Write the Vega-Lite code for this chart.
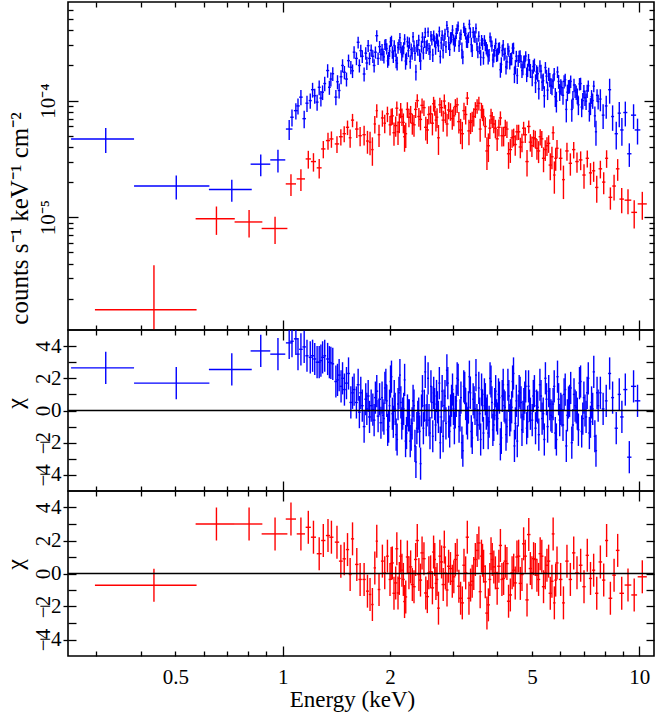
{
"$schema": "https://vega.github.io/schema/vega-lite/v6.json",
"background": "white",
"padding": {"left": 2, "top": 0, "right": 0, "bottom": 0},
"spacing": 0,
"bounds": "flush",
"config": {
  "view": {"stroke": "black", "strokeWidth": 1.6},
  "font": "Liberation Serif",
  "axis": {"grid": false, "domain": false, "labelFont": "Liberation Serif", "titleFont": "Liberation Serif", "labelColor": "black", "titleColor": "black", "tickColor": "black", "tickWidth": 1.3, "labelFontSize": 21, "titleFontSize": 23, "titleFontWeight": "normal", "labelFlush": false, "labelOverlap": false}
},
"datasets": {
"blue": [
{"e":0.319,"d":0.064,"f":4.69e-5,"s":1.13e-5,"c":2.65},
{"e":0.503,"d":0.12,"f":1.85e-5,"s":4.3e-6,"c":1.7},
{"e":0.72,"d":0.099,"f":1.73e-5,"s":3.7e-6,"c":2.55},
{"e":0.868,"d":0.055,"f":2.85e-5,"s":6.0e-6,"c":3.7},
{"e":0.97,"d":0.047,"f":3.1e-5,"s":6.8e-6,"c":3.5},
{"e":1.043,"d":0.022,"f":5.7e-5,"s":1.1e-5,"c":4.2},
{"e":1.062,"d":0.012,"f":7.2e-5,"s":1.2e-5,"c":4.3},
{"e":1.089,"d":0.014,"f":8.2e-5,"s":1.3e-5,"c":4.45},
{"e":1.104,"d":0.012,"f":9.0e-5,"s":1.4e-5,"c":3.5},
{"e":1.125,"d":0.013,"f":1.07e-4,"s":1.6e-5,"c":3.8},
{"e":1.149,"d":0.013,"f":7.0e-5,"s":1.2e-5,"c":3.95},
{"e":1.17,"d":0.012,"f":9.5e-5,"s":1.5e-5,"c":3.4},
{"e":1.195,"d":0.012,"f":1.0e-4,"s":1.5e-5,"c":3.3},
{"e":1.213,"d":0.012,"f":1.24e-4,"s":1.8e-5,"c":3.4},
{"e":1.23,"d":0.012,"f":1.1e-4,"s":1.6e-5,"c":3.2},
{"e":1.249,"d":0.012,"f":9.7e-5,"s":1.5e-5,"c":3.0},
{"e":1.266,"d":0.012,"f":1.3e-4,"s":1.9e-5,"c":3.0},
{"e":1.28,"d":0.012,"f":1.05e-4,"s":1.6e-5,"c":3.1},
{"e":1.294,"d":0.012,"f":1.18e-4,"s":1.7e-5,"c":3.3},
{"e":1.312,"d":0.012,"f":1.4e-4,"s":2.0e-5,"c":3.4},
{"e":1.337,"d":0.013,"f":1.81e-4,"s":2.4e-5,"c":3.2},
{"e":1.352,"d":0.012,"f":1.3e-4,"s":1.8e-5,"c":3.0},
{"e":1.365,"d":0.012,"f":1.53e-4,"s":2.1e-5,"c":2.96},
{"e":1.382,"d":0.012,"f":1.7e-4,"s":2.3e-5,"c":2.9},
{"e":1.41,"d":0.014,"f":1.07e-4,"s":1.6e-5,"c":1.8},
{"e":1.425,"d":0.012,"f":1.45e-4,"s":2.0e-5,"c":1.9},
{"e":1.44,"d":0.013,"f":1.22e-4,"s":1.8e-5,"c":2.2},
{"e":1.458,"d":0.013,"f":1.6e-4,"s":2.2e-5,"c":1.5},
{"e":1.472,"d":0.013,"f":2.0e-4,"s":2.6e-5,"c":2.0},
{"e":1.49,"d":0.013,"f":1.75e-4,"s":2.3e-5,"c":1.3},
{"e":1.51,"d":0.014,"f":1.53e-4,"s":2.1e-5,"c":1.7},
{"e":1.53,"d":0.014,"f":2.2e-4,"s":2.8e-5,"c":2.3},
{"e":1.553,"d":0.014,"f":1.93e-4,"s":2.5e-5,"c":0.5},
{"e":1.57,"d":0.014,"f":1.8e-4,"s":2.4e-5,"c":1.1},
{"e":1.586,"d":0.014,"f":2.6e-4,"s":3.2e-5,"c":1.3},
{"e":1.61,"d":0.015,"f":2.3e-4,"s":2.9e-5,"c":0.5},
{"e":1.628,"d":0.015,"f":3.16e-4,"s":3.7e-5,"c":1.6},
{"e":1.641,"d":0.015,"f":2.0e-4,"s":2.6e-5,"c":-0.1},
{"e":1.656,"d":0.015,"f":2.68e-4,"s":3.3e-5,"c":1.1},
{"e":1.672,"d":0.015,"f":2.4e-4,"s":3.0e-5,"c":0.3},
{"e":1.692,"d":0.015,"f":1.69e-4,"s":2.3e-5,"c":-1.0},
{"e":1.71,"d":0.015,"f":2.55e-4,"s":3.1e-5,"c":0.7},
{"e":1.722,"d":0.015,"f":2.1e-4,"s":2.7e-5,"c":0.1},
{"e":1.737,"d":0.016,"f":2.96e-4,"s":3.5e-5,"c":0.9},
{"e":1.752,"d":0.016,"f":2.3e-4,"s":2.9e-5,"c":-0.4},
{"e":1.771,"d":0.016,"f":2.7e-4,"s":3.2e-5,"c":0.3},
{"e":1.79,"d":0.016,"f":2.4e-4,"s":3.0e-5,"c":0.06},
{"e":1.805,"d":0.016,"f":2.0e-4,"s":2.6e-5,"c":-0.6},
{"e":1.82,"d":0.016,"f":2.6e-4,"s":3.1e-5,"c":0.8},
{"e":1.836,"d":0.017,"f":3.6e-4,"s":4.0e-5,"c":1.2},
{"e":1.852,"d":0.017,"f":2.3e-4,"s":2.8e-5,"c":-0.35},
{"e":1.87,"d":0.017,"f":2.9e-4,"s":3.4e-5,"c":0.7},
{"e":1.886,"d":0.017,"f":2.5e-4,"s":3.0e-5,"c":-0.76},
{"e":1.9,"d":0.012,"f":2.74e-4,"s":3.2e-5,"c":0.8},
{"e":1.923,"d":0.012,"f":2.37e-4,"s":2.9e-5,"c":-0.5},
{"e":1.947,"d":0.012,"f":3.03e-4,"s":3.5e-5,"c":1.6},
{"e":1.97,"d":0.012,"f":2.19e-4,"s":2.8e-5,"c":-1.2},
{"e":1.994,"d":0.012,"f":2.67e-4,"s":3.1e-5,"c":0.3},
{"e":2.019,"d":0.012,"f":3.26e-4,"s":3.4e-5,"c":2.1},
{"e":2.043,"d":0.012,"f":2.4e-4,"s":3.0e-5,"c":-0.7},
{"e":2.068,"d":0.012,"f":2.67e-4,"s":3.1e-5,"c":0.1},
{"e":2.094,"d":0.013,"f":2.09e-4,"s":2.8e-5,"c":-1.8},
{"e":2.119,"d":0.013,"f":3.03e-4,"s":3.3e-5,"c":1.1},
{"e":2.145,"d":0.013,"f":2.86e-4,"s":3.2e-5,"c":0.5},
{"e":2.171,"d":0.013,"f":2.65e-4,"s":3.1e-5,"c":-0.2},
{"e":2.198,"d":0.013,"f":3.36e-4,"s":3.5e-5,"c":1.9},
{"e":2.225,"d":0.015,"f":2.3e-4,"s":2.9e-5,"c":-1.4},
{"e":2.252,"d":0.015,"f":2.68e-4,"s":3.2e-5,"c":-0.3},
{"e":2.279,"d":0.015,"f":2.16e-4,"s":2.9e-5,"c":-1.9},
{"e":2.307,"d":0.015,"f":2.55e-4,"s":3.1e-5,"c":-0.8},
{"e":2.335,"d":0.015,"f":2.94e-4,"s":3.3e-5,"c":0.3},
{"e":2.364,"d":0.015,"f":1.76e-4,"s":2.7e-5,"c":-3.2},
{"e":2.393,"d":0.015,"f":2.74e-4,"s":3.2e-5,"c":-0.4},
{"e":2.422,"d":0.015,"f":2.45e-4,"s":3.1e-5,"c":-1.3},
{"e":2.451,"d":0.015,"f":2.92e-4,"s":3.4e-5,"c":0.0},
{"e":2.481,"d":0.015,"f":2.56e-4,"s":3.1e-5,"c":-1.1},
{"e":2.511,"d":0.015,"f":3.83e-4,"s":3.9e-5,"c":2.4},
{"e":2.542,"d":0.015,"f":2.99e-4,"s":3.4e-5,"c":0.0},
{"e":2.573,"d":0.016,"f":2.79e-4,"s":3.3e-5,"c":-0.6},
{"e":2.605,"d":0.016,"f":3.58e-4,"s":3.7e-5,"c":1.5},
{"e":2.636,"d":0.016,"f":2.46e-4,"s":3.2e-5,"c":-1.6},
{"e":2.668,"d":0.016,"f":3.22e-4,"s":3.5e-5,"c":0.4},
{"e":2.701,"d":0.016,"f":3.42e-4,"s":3.6e-5,"c":0.9},
{"e":2.734,"d":0.016,"f":2.95e-4,"s":3.4e-5,"c":-0.4},
{"e":2.767,"d":0.017,"f":2.39e-4,"s":3.1e-5,"c":-2.0},
{"e":2.801,"d":0.017,"f":3.63e-4,"s":3.8e-5,"c":1.2},
{"e":2.835,"d":0.017,"f":3.3e-4,"s":3.6e-5,"c":0.3},
{"e":2.87,"d":0.018,"f":2.9e-4,"s":3.4e-5,"c":-0.8},
{"e":2.905,"d":0.018,"f":3.89e-4,"s":3.9e-5,"c":1.7},
{"e":2.94,"d":0.018,"f":2.74e-4,"s":3.3e-5,"c":-1.3},
{"e":2.976,"d":0.018,"f":3.51e-4,"s":3.7e-5,"c":0.6},
{"e":3.013,"d":0.019,"f":3.33e-4,"s":3.6e-5,"c":0.1},
{"e":3.049,"d":0.019,"f":3.26e-4,"s":3.6e-5,"c":-0.1},
{"e":3.086,"d":0.019,"f":4.12e-4,"s":4.0e-5,"c":2.0},
{"e":3.124,"d":0.02,"f":2.95e-4,"s":3.4e-5,"c":-1.0},
{"e":3.162,"d":0.02,"f":3.68e-4,"s":3.8e-5,"c":0.8},
{"e":3.201,"d":0.02,"f":2.36e-4,"s":3.1e-5,"c":-2.5},
{"e":3.24,"d":0.02,"f":3.95e-4,"s":3.9e-5,"c":1.4},
{"e":3.279,"d":0.02,"f":3.19e-4,"s":3.6e-5,"c":-0.5},
{"e":3.319,"d":0.021,"f":3.48e-4,"s":3.7e-5,"c":0.2},
{"e":3.36,"d":0.021,"f":3.85e-4,"s":3.9e-5,"c":1.1},
{"e":3.401,"d":0.021,"f":2.69e-4,"s":3.3e-5,"c":-1.7},
{"e":3.442,"d":0.021,"f":3.55e-4,"s":3.8e-5,"c":0.5},
{"e":3.484,"d":0.022,"f":4.17e-4,"s":4.1e-5,"c":2.2},
{"e":3.527,"d":0.022,"f":2.63e-4,"s":3.2e-5,"c":-0.9},
{"e":3.57,"d":0.022,"f":2.83e-4,"s":3.3e-5,"c":-0.2},
{"e":3.613,"d":0.022,"f":3.29e-4,"s":3.6e-5,"c":1.3},
{"e":3.657,"d":0.023,"f":2.33e-4,"s":3.0e-5,"c":-1.4},
{"e":3.702,"d":0.023,"f":2.99e-4,"s":3.4e-5,"c":0.7},
{"e":3.747,"d":0.023,"f":2.72e-4,"s":3.2e-5,"c":0.0},
{"e":3.793,"d":0.024,"f":2.46e-4,"s":3.1e-5,"c":-0.7},
{"e":3.839,"d":0.024,"f":3.21e-4,"s":3.5e-5,"c":1.8},
{"e":3.886,"d":0.024,"f":2.23e-4,"s":3.0e-5,"c":-1.2},
{"e":3.933,"d":0.025,"f":2.69e-4,"s":3.2e-5,"c":0.4},
{"e":3.981,"d":0.025,"f":2.45e-4,"s":3.1e-5,"c":-0.3},
{"e":4.03,"d":0.025,"f":2.8e-4,"s":3.3e-5,"c":1.0},
{"e":4.079,"d":0.026,"f":1.84e-4,"s":2.7e-5,"c":-2.1},
{"e":4.129,"d":0.026,"f":2.69e-4,"s":3.2e-5,"c":0.9},
{"e":4.179,"d":0.026,"f":2.49e-4,"s":3.0e-5,"c":0.3},
{"e":4.23,"d":0.027,"f":1.94e-4,"s":2.7e-5,"c":-1.5},
{"e":4.282,"d":0.027,"f":2.78e-4,"s":3.2e-5,"c":1.6},
{"e":4.334,"d":0.027,"f":2.13e-4,"s":2.8e-5,"c":-0.6},
{"e":4.387,"d":0.028,"f":2.3e-4,"s":2.9e-5,"c":0.2},
{"e":4.44,"d":0.028,"f":2.82e-4,"s":3.2e-5,"c":2.3},
{"e":4.494,"d":0.028,"f":1.96e-4,"s":2.7e-5,"c":-0.8},
{"e":4.549,"d":0.029,"f":1.64e-4,"s":2.5e-5,"c":-1.9},
{"e":4.605,"d":0.029,"f":2.39e-4,"s":2.9e-5,"c":1.2},
{"e":4.661,"d":0.029,"f":2.17e-4,"s":2.8e-5,"c":0.5},
{"e":4.718,"d":0.03,"f":1.91e-4,"s":2.6e-5,"c":-0.4},
{"e":4.775,"d":0.03,"f":2.16e-4,"s":2.7e-5,"c":0.8},
{"e":4.834,"d":0.03,"f":1.68e-4,"s":2.4e-5,"c":-1.1},
{"e":4.893,"d":0.031,"f":2.23e-4,"s":2.8e-5,"c":1.5},
{"e":4.952,"d":0.031,"f":1.81e-4,"s":2.5e-5,"c":-0.2},
{"e":5.01,"d":0.036,"f":1.59e-4,"s":2.6e-5,"c":-0.6},
{"e":5.082,"d":0.036,"f":2.03e-4,"s":2.6e-5,"c":1.2},
{"e":5.155,"d":0.037,"f":1.76e-4,"s":2.5e-5,"c":0.3},
{"e":5.228,"d":0.037,"f":1.26e-4,"s":2.4e-5,"c":-1.5},
{"e":5.303,"d":0.038,"f":1.79e-4,"s":2.4e-5,"c":0.9},
{"e":5.379,"d":0.038,"f":1.48e-4,"s":2.3e-5,"c":-0.2},
{"e":5.456,"d":0.039,"f":1.92e-4,"s":2.2e-5,"c":2.0},
{"e":5.534,"d":0.039,"f":1.23e-4,"s":2.2e-5,"c":-1.0},
{"e":5.613,"d":0.04,"f":1.51e-4,"s":2.1e-5,"c":0.4},
{"e":5.693,"d":0.04,"f":1.32e-4,"s":2.1e-5,"c":-0.4},
{"e":5.775,"d":0.041,"f":1.69e-4,"s":2.1e-5,"c":1.5},
{"e":5.857,"d":0.042,"f":9.9e-5,"s":2.0e-5,"c":-1.8},
{"e":5.941,"d":0.042,"f":1.46e-4,"s":2.0e-5,"c":0.7},
{"e":6.026,"d":0.043,"f":1.32e-4,"s":2.0e-5,"c":0.1},
{"e":6.112,"d":0.044,"f":1.11e-4,"s":1.9e-5,"c":-0.9},
{"e":6.2,"d":0.044,"f":1.51e-4,"s":1.9e-5,"c":1.3},
{"e":6.288,"d":0.045,"f":1.18e-4,"s":1.9e-5,"c":-0.3},
{"e":6.378,"d":0.045,"f":1.33e-4,"s":1.8e-5,"c":0.6},
{"e":6.469,"d":0.046,"f":8.4e-5,"s":1.8e-5,"c":-2.0},
{"e":6.562,"d":0.047,"f":1.36e-4,"s":1.8e-5,"c":1.0},
{"e":6.656,"d":0.047,"f":1.18e-4,"s":1.7e-5,"c":0.2},
{"e":6.751,"d":0.048,"f":9.2e-5,"s":1.7e-5,"c":-1.2},
{"e":6.847,"d":0.049,"f":1.4e-4,"s":1.7e-5,"c":1.8},
{"e":6.945,"d":0.049,"f":1.0e-4,"s":1.6e-5,"c":-0.5},
{"e":7.044,"d":0.05,"f":1.06e-4,"s":1.6e-5,"c":0.0},
{"e":7.145,"d":0.051,"f":1.21e-4,"s":1.6e-5,"c":1.1},
{"e":7.247,"d":0.051,"f":8.1e-5,"s":1.5e-5,"c":-1.4},
{"e":7.351,"d":0.052,"f":1.08e-4,"s":1.5e-5,"c":0.5},
{"e":7.456,"d":0.053,"f":1.33e-4,"s":1.5e-5,"c":2.4},
{"e":7.562,"d":0.054,"f":5.4e-5,"s":1.3e-5,"c":-2.5},
{"e":7.67,"d":0.055,"f":9.8e-5,"s":1.4e-5,"c":0.3},
{"e":7.78,"d":0.06,"f":1.03e-4,"s":2.2e-5,"c":1.1},
{"e":7.92,"d":0.07,"f":7.5e-5,"s":1.8e-5,"c":0.1},
{"e":8.08,"d":0.07,"f":9.0e-5,"s":2.0e-5,"c":0.6},
{"e":8.26,"d":0.08,"f":1.24e-4,"s":3.0e-5,"c":2.3},
{"e":8.42,"d":0.08,"f":7.3e-5,"s":1.8e-5,"c":0.8},
{"e":8.62,"d":0.09,"f":5.2e-5,"s":1.4e-5,"c":-1.1},
{"e":8.79,"d":0.09,"f":7.8e-5,"s":1.9e-5,"c":1.0},
{"e":8.94,"d":0.1,"f":5.6e-5,"s":1.5e-5,"c":-0.4},
{"e":9.14,"d":0.12,"f":7.9e-5,"s":1.9e-5,"c":1.3},
{"e":9.38,"d":0.13,"f":3.5e-5,"s":8.0e-6,"c":-2.9},
{"e":9.64,"d":0.16,"f":7.5e-5,"s":1.8e-5,"c":1.5},
{"e":9.89,"d":0.18,"f":5.6e-5,"s":1.4e-5,"c":0.6},
{"e":1.9115,"d":0.012,"f":2.49e-4,"s":3.1e-5,"c":-0.3},
{"e":1.935,"d":0.012,"f":3.03e-4,"s":3.1e-5,"c":1.4},
{"e":1.9585,"d":0.012,"f":2.79e-4,"s":3.1e-5,"c":0.6},
{"e":1.982,"d":0.012,"f":2.3e-4,"s":3.1e-5,"c":-1.0},
{"e":2.0065,"d":0.012,"f":3.19e-4,"s":3.1e-5,"c":1.8},
{"e":2.031,"d":0.012,"f":2.6e-4,"s":3.2e-5,"c":-0.2},
{"e":2.0555,"d":0.012,"f":2.97e-4,"s":3.2e-5,"c":0.9},
{"e":2.081,"d":0.013,"f":2.21e-4,"s":3.2e-5,"c":-1.5},
{"e":2.1065,"d":0.013,"f":2.85e-4,"s":3.3e-5,"c":0.4},
{"e":2.132,"d":0.013,"f":3.46e-4,"s":3.3e-5,"c":2.2},
{"e":2.158,"d":0.013,"f":2.5e-4,"s":3.3e-5,"c":-0.8},
{"e":2.1845,"d":0.013,"f":2.83e-4,"s":3.4e-5,"c":0.1},
{"e":2.2115,"d":0.014,"f":2.18e-4,"s":3.4e-5,"c":-1.9},
{"e":2.2385,"d":0.015,"f":3.2e-4,"s":3.4e-5,"c":0.0},
{"e":2.2655,"d":0.015,"f":3.13e-4,"s":3.5e-5,"c":-0.3},
{"e":2.293,"d":0.015,"f":2.74e-4,"s":3.5e-5,"c":-1.5},
{"e":2.321,"d":0.015,"f":3.52e-4,"s":3.5e-5,"c":0.6},
{"e":2.3495,"d":0.015,"f":2.54e-4,"s":3.6e-5,"c":-2.2},
{"e":2.3785,"d":0.015,"f":2.95e-4,"s":3.6e-5,"c":-1.1},
{"e":2.4075,"d":0.015,"f":3.3e-4,"s":3.6e-5,"c":-0.2},
{"e":2.4365,"d":0.015,"f":2.19e-4,"s":3.6e-5,"c":-3.3},
{"e":2.466,"d":0.015,"f":3.49e-4,"s":3.7e-5,"c":1.2},
{"e":2.496,"d":0.015,"f":3.19e-4,"s":3.7e-5,"c":0.3},
{"e":2.5265,"d":0.015,"f":2.88e-4,"s":3.7e-5,"c":-0.6},
{"e":2.5575,"d":0.016,"f":3.87e-4,"s":3.7e-5,"c":2.0},
{"e":2.589,"d":0.016,"f":2.61e-4,"s":3.8e-5,"c":-1.4},
{"e":2.6205,"d":0.016,"f":3.35e-4,"s":3.8e-5,"c":0.5},
{"e":2.652,"d":0.016,"f":3.6e-4,"s":3.8e-5,"c":1.1},
{"e":2.6845,"d":0.016,"f":2.85e-4,"s":3.8e-5,"c":-0.9},
{"e":2.7175,"d":0.016,"f":3.31e-4,"s":3.9e-5,"c":0.2},
{"e":2.7505,"d":0.017,"f":3.92e-4,"s":3.9e-5,"c":1.7},
{"e":2.784,"d":0.017,"f":3.13e-4,"s":3.9e-5,"c":-0.4},
{"e":2.818,"d":0.017,"f":2.69e-4,"s":4.0e-5,"c":-1.6},
{"e":2.8525,"d":0.017,"f":3.72e-4,"s":4.0e-5,"c":0.9},
{"e":2.8875,"d":0.018,"f":4.41e-4,"s":4.1e-5,"c":2.5},
{"e":2.9225,"d":0.018,"f":3.13e-4,"s":4.1e-5,"c":-0.7},
{"e":2.958,"d":0.018,"f":3.45e-4,"s":4.1e-5,"c":0.0},
{"e":2.9945,"d":0.018,"f":4.02e-4,"s":4.2e-5,"c":1.3},
{"e":3.031,"d":0.019,"f":3.04e-4,"s":4.2e-5,"c":-1.1},
{"e":3.0675,"d":0.019,"f":3.77e-4,"s":4.2e-5,"c":0.6},
{"e":3.105,"d":0.019,"f":4.35e-4,"s":4.2e-5,"c":1.9},
{"e":3.143,"d":0.02,"f":3.43e-4,"s":4.3e-5,"c":-0.3},
{"e":3.1815,"d":0.02,"f":2.71e-4,"s":4.3e-5,"c":-2.0},
{"e":3.2205,"d":0.02,"f":4.22e-4,"s":4.3e-5,"c":1.5},
{"e":3.2595,"d":0.02,"f":3.76e-4,"s":4.3e-5,"c":0.4},
{"e":3.299,"d":0.02,"f":3.25e-4,"s":4.3e-5,"c":-0.8},
{"e":3.3395,"d":0.021,"f":4.51e-4,"s":4.3e-5,"c":2.1},
{"e":3.3805,"d":0.021,"f":3.02e-4,"s":4.3e-5,"c":-1.3},
{"e":3.4215,"d":0.021,"f":3.85e-4,"s":4.3e-5,"c":0.7},
{"e":3.463,"d":0.021,"f":3.54e-4,"s":4.2e-5,"c":0.1},
{"e":3.5055,"d":0.022,"f":3.06e-4,"s":4.0e-5,"c":-0.6},
{"e":3.5485,"d":0.022,"f":3.56e-4,"s":3.7e-5,"c":1.4},
{"e":3.5915,"d":0.022,"f":2.35e-4,"s":3.6e-5,"c":-1.8},
{"e":3.635,"d":0.022,"f":3.08e-4,"s":3.6e-5,"c":0.3},
{"e":3.6795,"d":0.023,"f":3.29e-4,"s":3.5e-5,"c":1.0},
{"e":3.7245,"d":0.023,"f":2.83e-4,"s":3.5e-5,"c":-0.2},
{"e":3.77,"d":0.023,"f":2.38e-4,"s":3.4e-5,"c":-1.4},
{"e":3.816,"d":0.024,"f":3.5e-4,"s":3.4e-5,"c":2.0},
{"e":3.8625,"d":0.024,"f":2.95e-4,"s":3.3e-5,"c":0.5},
{"e":3.9095,"d":0.024,"f":2.44e-4,"s":3.3e-5,"c":-0.9},
{"e":3.957,"d":0.025,"f":3.09e-4,"s":3.2e-5,"c":1.2},
{"e":4.0055,"d":0.025,"f":2.49e-4,"s":3.2e-5,"c":-0.5},
{"e":4.0545,"d":0.025,"f":2.85e-4,"s":3.1e-5,"c":0.8},
{"e":4.104,"d":0.026,"f":2.04e-4,"s":3.1e-5,"c":-1.7},
{"e":4.154,"d":0.026,"f":3.0e-4,"s":3.0e-5,"c":1.6},
{"e":4.2045,"d":0.026,"f":2.54e-4,"s":3.0e-5,"c":0.2},
{"e":4.256,"d":0.027,"f":2.15e-4,"s":2.9e-5,"c":-1.0},
{"e":4.308,"d":0.027,"f":2.66e-4,"s":2.9e-5,"c":0.9},
{"e":4.3605,"d":0.027,"f":2.28e-4,"s":2.8e-5,"c":-0.3},
{"e":4.4135,"d":0.028,"f":2.82e-4,"s":2.8e-5,"c":1.8},
{"e":4.467,"d":0.028,"f":1.68e-4,"s":2.7e-5,"c":-2.2},
{"e":4.5215,"d":0.028,"f":2.4e-4,"s":2.7e-5,"c":0.6},
{"e":4.577,"d":0.029,"f":2.2e-4,"s":2.6e-5,"c":0.0},
{"e":4.633,"d":0.029,"f":2.44e-4,"s":2.6e-5,"c":1.1},
{"e":4.6895,"d":0.029,"f":1.81e-4,"s":2.5e-5,"c":-1.2},
{"e":4.7465,"d":0.03,"f":2.18e-4,"s":2.5e-5,"c":0.4},
{"e":4.8045,"d":0.03,"f":2.41e-4,"s":2.4e-5,"c":1.5},
{"e":4.8635,"d":0.03,"f":1.83e-4,"s":2.4e-5,"c":-0.7},
{"e":4.9225,"d":0.031,"f":2.03e-4,"s":2.4e-5,"c":0.3},
{"e":5.046,"d":0.036,"f":1.96e-4,"s":2.6e-5,"c":0.9},
{"e":5.1185,"d":0.036,"f":1.42e-4,"s":2.6e-5,"c":-1.1},
{"e":5.1915,"d":0.037,"f":1.7e-4,"s":2.5e-5,"c":0.2},
{"e":5.2655,"d":0.037,"f":1.98e-4,"s":2.4e-5,"c":1.6},
{"e":5.341,"d":0.038,"f":1.44e-4,"s":2.3e-5,"c":-0.5},
{"e":5.4175,"d":0.038,"f":1.1e-4,"s":2.3e-5,"c":-1.8},
{"e":5.495,"d":0.039,"f":1.62e-4,"s":2.2e-5,"c":0.7},
{"e":5.5735,"d":0.039,"f":1.69e-4,"s":2.2e-5,"c":1.2},
{"e":5.653,"d":0.04,"f":1.35e-4,"s":2.1e-5,"c":-0.3},
{"e":5.734,"d":0.04,"f":1.47e-4,"s":2.1e-5,"c":0.4},
{"e":5.816,"d":0.041,"f":1.08e-4,"s":2.0e-5,"c":-1.4},
{"e":5.899,"d":0.042,"f":1.76e-4,"s":2.0e-5,"c":2.1},
{"e":5.9835,"d":0.042,"f":1.19e-4,"s":2.0e-5,"c":-0.6},
{"e":6.069,"d":0.043,"f":1.29e-4,"s":1.9e-5,"c":0.0},
{"e":6.156,"d":0.044,"f":1.46e-4,"s":1.9e-5,"c":1.0},
{"e":6.244,"d":0.044,"f":8.4e-5,"s":1.9e-5,"c":-2.2},
{"e":6.333,"d":0.045,"f":1.32e-4,"s":1.8e-5,"c":0.5},
{"e":6.4235,"d":0.045,"f":1.46e-4,"s":1.8e-5,"c":1.4},
{"e":6.5155,"d":0.046,"f":1.03e-4,"s":1.8e-5,"c":-0.9},
{"e":6.609,"d":0.047,"f":1.22e-4,"s":1.7e-5,"c":0.3},
{"e":6.7035,"d":0.047,"f":1.1e-4,"s":1.7e-5,"c":-0.2},
{"e":6.799,"d":0.048,"f":1.39e-4,"s":1.7e-5,"c":1.7},
{"e":6.896,"d":0.049,"f":8.8e-5,"s":1.6e-5,"c":-1.3},
{"e":6.9945,"d":0.049,"f":1.2e-4,"s":1.6e-5,"c":0.8},
{"e":7.0945,"d":0.05,"f":9.9e-5,"s":1.6e-5,"c":-0.4},
{"e":7.196,"d":0.051,"f":1.34e-4,"s":1.5e-5,"c":2.0},
{"e":7.299,"d":0.051,"f":9.0e-5,"s":1.5e-5,"c":-0.7},
{"e":7.4035,"d":0.052,"f":1.0e-4,"s":1.5e-5,"c":0.1},
{"e":7.509,"d":0.053,"f":7.4e-5,"s":1.5e-5,"c":-1.6},
{"e":7.616,"d":0.054,"f":1.11e-4,"s":1.4e-5,"c":1.1}
],
"red": [
{"e":0.4355,"d":0.138,"f":1.6e-6,"s":2.26e-6,"c":-0.71},
{"e":0.652,"d":0.082,"f":9.7e-6,"s":2.65e-6,"c":3.0},
{"e":0.805,"d":0.072,"f":9.1e-6,"s":2.4e-6,"c":3.0},
{"e":0.952,"d":0.079,"f":8.0e-6,"s":2.1e-6,"c":2.4},
{"e":1.055,"d":0.035,"f":1.93e-5,"s":4.1e-6,"c":3.3},
{"e":1.125,"d":0.03,"f":2.13e-5,"s":4.5e-6,"c":2.4},
{"e":1.18,"d":0.02,"f":3.16e-5,"s":5.5e-6,"c":2.8},
{"e":1.22,"d":0.02,"f":3.0e-5,"s":5.4e-6,"c":2.2},
{"e":1.266,"d":0.02,"f":2.65e-5,"s":5.0e-6,"c":1.2},
{"e":1.3,"d":0.018,"f":3.85e-5,"s":6.5e-6,"c":2.0},
{"e":1.34,"d":0.018,"f":4.54e-5,"s":7.5e-6,"c":2.3},
{"e":1.37,"d":0.018,"f":4.69e-5,"s":7.5e-6,"c":2.2},
{"e":1.42,"d":0.02,"f":4.25e-5,"s":7.0e-6,"c":1.9},
{"e":1.456,"d":0.018,"f":4.9e-5,"s":7.7e-6,"c":0.75},
{"e":1.488,"d":0.016,"f":5.2e-5,"s":8.1e-6,"c":0.89},
{"e":1.52,"d":0.016,"f":5.9e-5,"s":8.4e-6,"c":1.45},
{"e":1.546,"d":0.014,"f":4.8e-5,"s":8.6e-6,"c":-0.06},
{"e":1.57,"d":0.016,"f":6.8e-5,"s":8.9e-6,"c":2.1},
{"e":1.614,"d":0.018,"f":5.7e-5,"s":9.3e-6,"c":0.55},
{"e":1.649,"d":0.018,"f":5.0e-5,"s":9.5e-6,"c":-0.36},
{"e":1.692,"d":0.018,"f":5.1e-5,"s":9.8e-6,"c":-0.36},
{"e":1.729,"d":0.016,"f":4.5e-5,"s":1.0e-5,"c":-1.07},
{"e":1.758,"d":0.014,"f":4.4e-5,"s":1.0e-5,"c":-1.27},
{"e":1.785,"d":0.014,"f":3.8e-5,"s":1.04e-5,"c":-1.88},
{"e":1.813,"d":0.014,"f":6.3e-5,"s":1.07e-5,"c":0.34},
{"e":1.836,"d":0.013,"f":8.2e-5,"s":1.09e-5,"c":1.96},
{"e":1.863,"d":0.016,"f":5.1e-5,"s":1.1e-5,"c":-0.97},
{"e":1.904,"d":0.018,"f":7.1e-5,"s":1.13e-5,"c":0.75},
{"e":1.933,"d":0.016,"f":6.4e-5,"s":1.15e-5,"c":0.04},
{"e":1.967,"d":0.018,"f":7.7e-5,"s":1.17e-5,"c":1.05},
{"e":2.0,"d":0.018,"f":6.2e-5,"s":1.19e-5,"c":-0.36},
{"e":2.03,"d":0.02,"f":7.4e-5,"s":1.2e-5,"c":0.64},
{"e":2.075,"d":0.022,"f":6.1e-5,"s":1.2e-5,"c":-0.57},
{"e":2.106,"d":0.018,"f":5.4e-5,"s":1.23e-5,"c":-1.18},
{"e":2.143,"d":0.02,"f":8.3e-5,"s":1.25e-5,"c":1.05},
{"e":2.18,"d":0.02,"f":6.5e-5,"s":1.26e-5,"c":-0.36},
{"e":2.214,"d":0.02,"f":5.2e-5,"s":1.27e-5,"c":-1.42},
{"e":2.26,"d":0.024,"f":7.2e-5,"s":1.29e-5,"c":0.04},
{"e":2.31,"d":0.025,"f":6.4e-5,"s":1.3e-5,"c":-0.67},
{"e":2.36,"d":0.025,"f":8.4e-5,"s":1.31e-5,"c":0.85},
{"e":2.41,"d":0.025,"f":7.3e-5,"s":1.33e-5,"c":-0.06},
{"e":2.46,"d":0.027,"f":9.1e-5,"s":1.34e-5,"c":1.25},
{"e":2.52,"d":0.028,"f":5.9e-5,"s":1.35e-5,"c":-1.18},
{"e":2.57,"d":0.026,"f":7.6e-5,"s":1.36e-5,"c":0.04},
{"e":2.63,"d":0.028,"f":6.4e-5,"s":1.37e-5,"c":-0.87},
{"e":2.67,"d":0.022,"f":8.8e-5,"s":1.38e-5,"c":0.85},
{"e":2.71,"d":0.022,"f":7.2e-5,"s":1.38e-5,"c":-0.36},
{"e":2.76,"d":0.026,"f":9.2e-5,"s":1.39e-5,"c":1.05},
{"e":2.82,"d":0.03,"f":6.8e-5,"s":1.39e-5,"c":-0.67},
{"e":2.86,"d":0.022,"f":7.8e-5,"s":1.39e-5,"c":0.04},
{"e":2.92,"d":0.03,"f":8.3e-5,"s":1.39e-5,"c":0.44},
{"e":2.99,"d":0.034,"f":7.0e-5,"s":1.39e-5,"c":-0.47},
{"e":3.05,"d":0.032,"f":8.9e-5,"s":1.39e-5,"c":0.85},
{"e":3.12,"d":0.034,"f":6.6e-5,"s":1.38e-5,"c":-0.77},
{"e":3.19,"d":0.034,"f":5.2e-5,"s":1.37e-5,"c":-1.78},
{"e":3.26,"d":0.035,"f":7.6e-5,"s":1.36e-5,"c":0.04},
{"e":3.33,"d":0.035,"f":5.5e-5,"s":1.35e-5,"c":-1.5},
{"e":3.4,"d":0.035,"f":6.7e-5,"s":1.32e-5,"c":-0.47},
{"e":3.47,"d":0.036,"f":8.4e-5,"s":1.3e-5,"c":0.85},
{"e":3.55,"d":0.038,"f":9.5e-5,"s":1.28e-5,"c":1.85},
{"e":3.61,"d":0.03,"f":8.3e-5,"s":1.26e-5,"c":1.05},
{"e":3.66,"d":0.03,"f":7.3e-5,"s":1.22e-5,"c":0.44},
{"e":3.74,"d":0.04,"f":3.7e-5,"s":1.16e-5,"c":-2.4},
{"e":3.81,"d":0.035,"f":5.8e-5,"s":1.12e-5,"c":-0.36},
{"e":3.87,"d":0.035,"f":6.9e-5,"s":1.08e-5,"c":0.85},
{"e":3.95,"d":0.04,"f":5.8e-5,"s":1.04e-5,"c":0.04},
{"e":4.04,"d":0.045,"f":5.9e-5,"s":9.9e-6,"c":0.44},
{"e":4.12,"d":0.04,"f":5.0e-5,"s":9.6e-6,"c":-0.36},
{"e":4.21,"d":0.045,"f":5.9e-5,"s":9.4e-6,"c":0.75},
{"e":4.3,"d":0.045,"f":3.5e-5,"s":9.0e-6,"c":-1.68},
{"e":4.4,"d":0.05,"f":4.8e-5,"s":8.6e-6,"c":0.04},
{"e":4.49,"d":0.045,"f":4.2e-5,"s":8.4e-6,"c":-0.57},
{"e":4.59,"d":0.05,"f":5.4e-5,"s":8.1e-6,"c":1.05},
{"e":4.69,"d":0.05,"f":4.4e-5,"s":7.9e-6,"c":-0.06},
{"e":4.79,"d":0.05,"f":5.1e-5,"s":7.7e-6,"c":1.05},
{"e":4.9,"d":0.055,"f":6.0e-5,"s":7.6e-6,"c":2.36},
{"e":5.0,"d":0.05,"f":4.1e-5,"s":8.2e-6,"c":0.04},
{"e":5.11,"d":0.055,"f":4.7e-5,"s":8.0e-6,"c":0.85},
{"e":5.22,"d":0.055,"f":3.7e-5,"s":7.9e-6,"c":-0.36},
{"e":5.33,"d":0.055,"f":4.7e-5,"s":7.8e-6,"c":1.05},
{"e":5.45,"d":0.06,"f":3.8e-5,"s":7.6e-6,"c":0.04},
{"e":5.57,"d":0.06,"f":4.3e-5,"s":7.4e-6,"c":0.75},
{"e":5.69,"d":0.06,"f":3.3e-5,"s":7.2e-6,"c":-0.47},
{"e":5.78,"d":0.045,"f":2.3e-5,"s":7.1e-6,"c":-1.78},
{"e":5.88,"d":0.06,"f":3.9e-5,"s":7.0e-6,"c":0.64},
{"e":6.02,"d":0.07,"f":3.2e-5,"s":6.8e-6,"c":-0.36},
{"e":6.13,"d":0.055,"f":2.1e-5,"s":6.7e-6,"c":-1.78},
{"e":6.27,"d":0.07,"f":3.7e-5,"s":6.5e-6,"c":0.75},
{"e":6.41,"d":0.07,"f":2.9e-5,"s":6.3e-6,"c":-0.36},
{"e":6.55,"d":0.07,"f":3.8e-5,"s":6.1e-6,"c":1.25},
{"e":6.69,"d":0.075,"f":3.0e-5,"s":5.9e-6,"c":0.04},
{"e":6.85,"d":0.08,"f":3.1e-5,"s":5.7e-6,"c":0.5},
{"e":7.0,"d":0.075,"f":2.3e-5,"s":5.5e-6,"c":-0.8},
{"e":7.15,"d":0.075,"f":3.2e-5,"s":5.3e-6,"c":1.1},
{"e":7.3,"d":0.075,"f":2.4e-5,"s":5.1e-6,"c":-0.3},
{"e":7.45,"d":0.075,"f":2.5e-5,"s":4.9e-6,"c":0.2},
{"e":7.6,"d":0.08,"f":1.8e-5,"s":4.7e-6,"c":-1.2},
{"e":7.78,"d":0.09,"f":2.6e-5,"s":4.5e-6,"c":0.7},
{"e":7.95,"d":0.085,"f":2.0e-5,"s":4.3e-6,"c":-0.4},
{"e":8.1,"d":0.08,"f":3.2e-5,"s":5.5e-6,"c":2.0},
{"e":8.3,"d":0.1,"f":1.48e-5,"s":3.2e-6,"c":-1.5},
{"e":8.5,"d":0.1,"f":1.85e-5,"s":4.6e-6,"c":-0.1},
{"e":8.7,"d":0.1,"f":2.6e-5,"s":5.5e-6,"c":1.4},
{"e":8.93,"d":0.13,"f":1.43e-5,"s":3.5e-6,"c":-1.2},
{"e":9.3,"d":0.2,"f":1.4e-5,"s":3.4e-6,"c":-0.7},
{"e":9.68,"d":0.18,"f":1.1e-5,"s":3.0e-6,"c":-1.3},
{"e":10.2,"d":0.3,"f":1.3e-5,"s":3.5e-6,"c":-0.2},
{"e":2.015,"d":0.018,"f":7.3e-5,"s":1.19e-5,"c":0.6},
{"e":2.052,"d":0.02,"f":5.3e-5,"s":1.2e-5,"c":-1.2},
{"e":2.09,"d":0.02,"f":8.6e-5,"s":1.22e-5,"c":1.5},
{"e":2.124,"d":0.02,"f":6.5e-5,"s":1.24e-5,"c":-0.3},
{"e":2.16,"d":0.02,"f":7.3e-5,"s":1.26e-5,"c":0.2},
{"e":2.197,"d":0.02,"f":4.9e-5,"s":1.26e-5,"c":-1.7},
{"e":2.237,"d":0.022,"f":8.4e-5,"s":1.28e-5,"c":1.0},
{"e":2.285,"d":0.024,"f":7.7e-5,"s":1.3e-5,"c":0.4},
{"e":2.335,"d":0.025,"f":6.2e-5,"s":1.31e-5,"c":-0.8},
{"e":2.385,"d":0.025,"f":1.0e-4,"s":1.32e-5,"c":2.0},
{"e":2.435,"d":0.025,"f":6.9e-5,"s":1.34e-5,"c":-0.4},
{"e":2.49,"d":0.027,"f":8.7e-5,"s":1.34e-5,"c":0.9},
{"e":2.545,"d":0.027,"f":5.6e-5,"s":1.35e-5,"c":-1.4},
{"e":2.6,"d":0.027,"f":7.7e-5,"s":1.36e-5,"c":0.1},
{"e":2.65,"d":0.025,"f":9.4e-5,"s":1.37e-5,"c":1.3},
{"e":2.69,"d":0.022,"f":6.8e-5,"s":1.38e-5,"c":-0.6},
{"e":2.735,"d":0.024,"f":4.8e-5,"s":1.38e-5,"c":-2.1},
{"e":2.79,"d":0.028,"f":8.7e-5,"s":1.39e-5,"c":0.7},
{"e":2.84,"d":0.026,"f":9.9e-5,"s":1.39e-5,"c":1.6},
{"e":2.89,"d":0.028,"f":6.3e-5,"s":1.39e-5,"c":-1.0},
{"e":2.955,"d":0.032,"f":8.1e-5,"s":1.39e-5,"c":0.3},
{"e":3.02,"d":0.032,"f":7.4e-5,"s":1.39e-5,"c":-0.2},
{"e":3.085,"d":0.033,"f":9.2e-5,"s":1.38e-5,"c":1.1},
{"e":3.155,"d":0.034,"f":5.6e-5,"s":1.37e-5,"c":-1.5},
{"e":3.225,"d":0.034,"f":8.2e-5,"s":1.36e-5,"c":0.5},
{"e":3.295,"d":0.035,"f":1.05e-4,"s":1.35e-5,"c":2.2},
{"e":3.365,"d":0.035,"f":6.5e-5,"s":1.34e-5,"c":-0.7},
{"e":3.435,"d":0.035,"f":7.3e-5,"s":1.31e-5,"c":0.0},
{"e":3.51,"d":0.037,"f":9.0e-5,"s":1.29e-5,"c":1.4},
{"e":3.58,"d":0.034,"f":5.7e-5,"s":1.27e-5,"c":-1.1},
{"e":3.635,"d":0.03,"f":7.9e-5,"s":1.24e-5,"c":0.8},
{"e":3.7,"d":0.035,"f":6.0e-5,"s":1.19e-5,"c":-0.5},
{"e":3.775,"d":0.037,"f":4.1e-5,"s":1.13e-5,"c":-1.9},
{"e":3.84,"d":0.035,"f":7.4e-5,"s":1.1e-5,"c":1.2},
{"e":3.91,"d":0.037,"f":6.3e-5,"s":1.06e-5,"c":0.4},
{"e":3.995,"d":0.042,"f":4.7e-5,"s":1.01e-5,"c":-0.9},
{"e":4.08,"d":0.042,"f":7.1e-5,"s":9.8e-6,"c":1.7},
{"e":4.165,"d":0.042,"f":5.0e-5,"s":9.5e-6,"c":-0.3},
{"e":4.255,"d":0.045,"f":5.7e-5,"s":9.2e-6,"c":0.6},
{"e":4.35,"d":0.047,"f":3.8e-5,"s":8.8e-6,"c":-1.3},
{"e":4.445,"d":0.047,"f":4.9e-5,"s":8.5e-6,"c":0.2},
{"e":4.54,"d":0.047,"f":5.4e-5,"s":8.2e-6,"c":1.0},
{"e":4.64,"d":0.05,"f":4.0e-5,"s":8.0e-6,"c":-0.6},
{"e":4.74,"d":0.05,"f":5.8e-5,"s":7.8e-6,"c":1.8},
{"e":4.845,"d":0.052,"f":3.0e-5,"s":7.7e-6,"c":-1.6},
{"e":4.95,"d":0.052,"f":4.4e-5,"s":7.5e-6,"c":0.3},
{"e":5.055,"d":0.052,"f":4.8e-5,"s":8.1e-6,"c":0.9},
{"e":5.165,"d":0.055,"f":3.9e-5,"s":7.9e-6,"c":-0.1},
{"e":5.275,"d":0.055,"f":4.9e-5,"s":7.8e-6,"c":1.2},
{"e":5.39,"d":0.057,"f":3.2e-5,"s":7.7e-6,"c":-0.8},
{"e":5.51,"d":0.06,"f":4.1e-5,"s":7.5e-6,"c":0.5},
{"e":5.63,"d":0.06,"f":2.8e-5,"s":7.3e-6,"c":-1.2},
{"e":5.735,"d":0.052,"f":5.3e-5,"s":7.1e-6,"c":2.4},
{"e":5.83,"d":0.052,"f":3.2e-5,"s":7.0e-6,"c":-0.4}
]
},
"vconcat": [
{
  "width": 586, "height": 328,
  "layer": [
    {"data": {"name": "blue"}, "mark": {"type": "errorbar", "color": "#0000ff", "thickness": 1.4},
     "encoding": {"x": {"field": "e", "type": "quantitative", "scale": {"type": "log", "domain": [0.25, 11], "nice": false, "clamp": true}, "axis": null}, "xError": {"field": "d"},
                  "y": {"field": "f", "type": "quantitative", "scale": {"type": "symlog", "constant": 1e-8, "domain": [1.07e-6, 7e-4], "nice": false, "zero": false, "clamp": true}, "axis": null}}},
    {"data": {"name": "blue"}, "mark": {"type": "errorbar", "color": "#0000ff", "thickness": 1.4},
     "encoding": {"x": {"field": "e", "type": "quantitative", "axis": null}, "y": {"field": "f", "type": "quantitative", "axis": null}, "yError": {"field": "s"}}},
    {"data": {"name": "red"}, "mark": {"type": "errorbar", "color": "#ff0000", "thickness": 1.4},
     "encoding": {"x": {"field": "e", "type": "quantitative", "axis": null}, "xError": {"field": "d"}, "y": {"field": "f", "type": "quantitative", "axis": null}}},
    {"data": {"name": "red"}, "mark": {"type": "errorbar", "color": "#ff0000", "thickness": 1.4},
     "encoding": {"x": {"field": "e", "type": "quantitative", "axis": null}, "y": {"field": "f", "type": "quantitative", "axis": null}, "yError": {"field": "s"}}},
    {"data": {"name": "blue"}, "mark": {"type": "point", "opacity": 0},
     "encoding": {"x": {"field": "e", "type": "quantitative", "axis": {"orient": "bottom", "values": [1, 10], "tickSize": -10, "labels": false, "title": null}},
                  "y": {"field": "f", "type": "quantitative", "axis": {"orient": "left", "values": [1e-5, 1e-4], "tickSize": -10, "labelExpr": "datum.value < 5e-5 ? '10⁻⁵' : '10⁻⁴'", "labelAngle": 270, "labelAlign": "center", "labelBaseline": "bottom", "labelPadding": 20, "title": "counts s⁻¹ keV⁻¹ cm⁻²", "titleFontSize": 25, "titleAngle": 270, "titleAlign": "center", "titleBaseline": "bottom", "titleX": -36, "titleY": 216}}}},
    {"data": {"name": "blue"}, "mark": {"type": "point", "opacity": 0},
     "encoding": {"x": {"field": "e", "type": "quantitative", "axis": {"orient": "bottom", "values": [0.3,0.4,0.5,0.6,0.7,0.8,0.9,2,3,4,5,6,7,8,9], "tickSize": -5, "labels": false, "title": null}},
                  "y": {"field": "f", "type": "quantitative", "axis": {"orient": "left", "values": [2e-6,3e-6,4e-6,5e-6,6e-6,7e-6,8e-6,9e-6,2e-5,3e-5,4e-5,5e-5,6e-5,7e-5,8e-5,9e-5,2e-4,3e-4,4e-4,5e-4,6e-4], "tickSize": -5, "labels": false, "title": null}}}},
    {"data": {"name": "blue"}, "mark": {"type": "point", "opacity": 0},
     "encoding": {"x": {"field": "e", "type": "quantitative", "axis": {"orient": "top", "values": [1, 10], "tickSize": -10, "labels": false, "title": null}},
                  "y": {"field": "f", "type": "quantitative", "axis": {"orient": "right", "values": [1e-5, 1e-4], "tickSize": -10, "labels": false, "title": null}}}},
    {"data": {"name": "blue"}, "mark": {"type": "point", "opacity": 0},
     "encoding": {"x": {"field": "e", "type": "quantitative", "axis": {"orient": "top", "values": [0.3,0.4,0.5,0.6,0.7,0.8,0.9,2,3,4,5,6,7,8,9], "tickSize": -5, "labels": false, "title": null}},
                  "y": {"field": "f", "type": "quantitative", "axis": {"orient": "right", "values": [2e-6,3e-6,4e-6,5e-6,6e-6,7e-6,8e-6,9e-6,2e-5,3e-5,4e-5,5e-5,6e-5,7e-5,8e-5,9e-5,2e-4,3e-4,4e-4,5e-4,6e-4], "tickSize": -5, "labels": false, "title": null}}}}
  ],
  "resolve": {"axis": {"x": "independent", "y": "independent"}}
},
{
  "width": 586, "height": 161,
  "layer": [
    {"data": {"name": "blue"}, "mark": {"type": "errorbar", "color": "#0000ff", "thickness": 1.4},
     "encoding": {"x": {"field": "e", "type": "quantitative", "scale": {"type": "log", "domain": [0.25, 11], "nice": false, "clamp": true}, "axis": null}, "xError": {"field": "d"},
                  "y": {"field": "c", "type": "quantitative", "scale": {"domain": [-5, 5], "nice": false, "zero": false, "clamp": true}, "axis": null}}},
    {"data": {"name": "blue"}, "mark": {"type": "tick", "orient": "vertical", "color": "#0000ff", "size": 32.2, "thickness": 1.4, "opacity": 1, "clip": true},
     "encoding": {"x": {"field": "e", "type": "quantitative", "axis": null}, "y": {"field": "c", "type": "quantitative", "axis": null}}},
    {"data": {"values": [{}]}, "mark": {"type": "rule", "color": "black", "strokeWidth": 1.5}, "encoding": {"y": {"datum": 0}}},
    {"data": {"name": "blue"}, "mark": {"type": "point", "opacity": 0},
     "encoding": {"x": {"field": "e", "type": "quantitative", "axis": {"orient": "bottom", "values": [1, 10], "tickSize": -10, "labels": false, "title": null}},
                  "y": {"field": "c", "type": "quantitative", "axis": {"orient": "left", "values": [-4, -2, 0, 2, 4], "tickSize": -8, "labelAngle": 270, "labelAlign": "center", "labelBaseline": "bottom", "labelPadding": 23, "title": "χ", "titleFontSize": 24, "titleAngle": 270, "titleAlign": "center", "titleBaseline": "bottom", "titleX": -41, "titleY": 73}}}},
    {"data": {"name": "blue"}, "mark": {"type": "point", "opacity": 0},
     "encoding": {"x": {"field": "e", "type": "quantitative", "axis": {"orient": "bottom", "values": [0.3,0.4,0.5,0.6,0.7,0.8,0.9,2,3,4,5,6,7,8,9], "tickSize": -5, "labels": false, "title": null}},
                  "y": {"field": "c", "type": "quantitative", "axis": {"orient": "left", "values": [-3, -1, 1, 3], "tickSize": -8, "labels": false, "title": null}}}},
    {"data": {"name": "blue"}, "mark": {"type": "point", "opacity": 0},
     "encoding": {"x": {"field": "e", "type": "quantitative", "axis": {"orient": "top", "values": [1, 10], "tickSize": -10, "labels": false, "title": null}},
                  "y": {"field": "c", "type": "quantitative", "axis": {"orient": "right", "values": [-4,-3,-2,-1,0,1,2,3,4], "tickSize": -8, "labels": false, "title": null}}}},
    {"data": {"name": "blue"}, "mark": {"type": "point", "opacity": 0},
     "encoding": {"x": {"field": "e", "type": "quantitative", "axis": {"orient": "top", "values": [0.3,0.4,0.5,0.6,0.7,0.8,0.9,2,3,4,5,6,7,8,9], "tickSize": -5, "labels": false, "title": null}},
                  "y": {"field": "c", "type": "quantitative", "axis": null}}}
  ],
  "resolve": {"axis": {"x": "independent", "y": "independent"}}
},
{
  "width": 586, "height": 165,
  "layer": [
    {"data": {"name": "red"}, "mark": {"type": "errorbar", "color": "#ff0000", "thickness": 1.4},
     "encoding": {"x": {"field": "e", "type": "quantitative", "scale": {"type": "log", "domain": [0.25, 11], "nice": false, "clamp": true}, "axis": null}, "xError": {"field": "d"},
                  "y": {"field": "c", "type": "quantitative", "scale": {"domain": [-5, 5], "nice": false, "zero": false, "clamp": true}, "axis": null}}},
    {"data": {"name": "red"}, "mark": {"type": "tick", "orient": "vertical", "color": "#ff0000", "size": 33, "thickness": 1.4, "opacity": 1, "clip": true},
     "encoding": {"x": {"field": "e", "type": "quantitative", "axis": null}, "y": {"field": "c", "type": "quantitative", "axis": null}}},
    {"data": {"values": [{}]}, "mark": {"type": "rule", "color": "black", "strokeWidth": 1.5}, "encoding": {"y": {"datum": 0}}},
    {"data": {"name": "red"}, "mark": {"type": "point", "opacity": 0},
     "encoding": {"x": {"field": "e", "type": "quantitative", "axis": {"orient": "bottom", "values": [1, 10], "tickSize": -10, "labels": false, "title": null}},
                  "y": {"field": "c", "type": "quantitative", "axis": {"orient": "left", "values": [-4, -2, 0, 2, 4], "tickSize": -8, "labelAngle": 270, "labelAlign": "center", "labelBaseline": "bottom", "labelPadding": 23, "title": "χ", "titleFontSize": 24, "titleAngle": 270, "titleAlign": "center", "titleBaseline": "bottom", "titleX": -41, "titleY": 73}}}},
    {"data": {"name": "red"}, "mark": {"type": "point", "opacity": 0},
     "encoding": {"x": {"field": "e", "type": "quantitative", "axis": {"orient": "bottom", "values": [0.3,0.4,0.5,0.6,0.7,0.8,0.9,2,3,4,5,6,7,8,9], "tickSize": -5, "labels": false, "title": null}},
                  "y": {"field": "c", "type": "quantitative", "axis": {"orient": "left", "values": [-3, -1, 1, 3], "tickSize": -8, "labels": false, "title": null}}}},
    {"data": {"name": "red"}, "mark": {"type": "point", "opacity": 0},
     "encoding": {"x": {"field": "e", "type": "quantitative", "axis": {"orient": "top", "values": [1, 10], "tickSize": -10, "labels": false, "title": null}},
                  "y": {"field": "c", "type": "quantitative", "axis": {"orient": "right", "values": [-4,-3,-2,-1,0,1,2,3,4], "tickSize": -8, "labels": false, "title": null}}}},
    {"data": {"name": "red"}, "mark": {"type": "point", "opacity": 0},
     "encoding": {"x": {"field": "e", "type": "quantitative", "axis": {"orient": "top", "values": [0.3,0.4,0.5,0.6,0.7,0.8,0.9,2,3,4,5,6,7,8,9], "tickSize": -5, "labels": false, "title": null}},
                  "y": {"field": "c", "type": "quantitative", "axis": null}}},
    {"data": {"name": "red"}, "mark": {"type": "point", "opacity": 0},
     "encoding": {"x": {"field": "e", "type": "quantitative", "axis": {"orient": "bottom", "values": [0.5, 1, 2, 5, 10], "ticks": false, "labels": true, "labelPadding": 10, "format": "~g", "title": "Energy (keV)", "titleX": 284, "titleY": 32, "titleAlign": "center", "titleBaseline": "top"}},
                  "y": {"field": "c", "type": "quantitative", "axis": null}}}
  ],
  "resolve": {"axis": {"x": "independent", "y": "independent"}}
}
]
}
